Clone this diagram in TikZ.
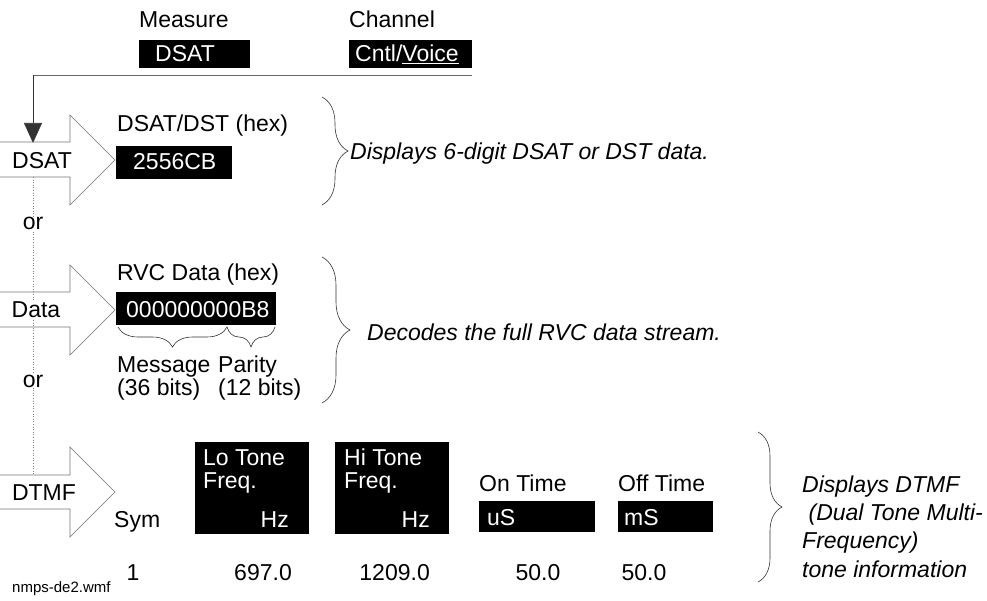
\documentclass[tikz,border=0pt]{standalone}
\usepackage{fontspec}
\setmainfont{Liberation Sans}
\usetikzlibrary{arrows.meta,decorations.pathreplacing}
\begin{document}
\begin{tikzpicture}[x=1pt,y=-1pt,
  txt/.style={inner sep=0pt,font=\fontsize{23}{27}\selectfont},
  wtxt/.style={txt,text=white},
  itxt/.style={inner sep=0pt,font=\fontsize{23}{27}\selectfont\itshape},
  blk/.style={fill=black,draw=none},
  bigarrow/.style={draw=gray!90!black,line width=0.7pt,line join=miter},
  brc/.style={draw=black!80,line width=0.6pt,decorate,decoration={brace,amplitude=#1}},
  brc/.default=24pt,
  dots/.style={draw=gray,line width=0.6pt,dash pattern=on 1pt off 1.6pt},
  lbl/.style={txt,fill=white,inner sep=1pt}]
\useasboundingbox (0,0) rectangle (987,601);
% top selectors
\node[txt,anchor=base west] (meas) at (139,28) {Measure};
\fill[blk] (139,40) rectangle (250,68);
\node[wtxt,anchor=base west] (measv) at (155,62) {DSAT};
\node[txt,anchor=base west] (chan) at (349,28) {Channel};
\fill[blk] (349,40) rectangle (472,68);
\node[wtxt,anchor=base west] (chanv) at (355,62) {Cntl/\underline{Voice}};
\coordinate (lineR) at (472,75);
\coordinate (lineL) at (33,75);
\coordinate (lineT) at (33,143);
\draw[gray!80!black,line width=0.7pt] (lineR) -- (lineL);
\draw[black!80,line width=0.7pt,-{Triangle[length=20pt,width=18pt]}] (lineL) -- (lineT);
% dotted connector
\coordinate (dotA) at (33,177);
\coordinate (dotB) at (33,475);
\draw[dots] (dotA) -- (dotB);
% big arrows
\draw[bigarrow] (0,142) -- (70,142) -- (70,115) -- (115,160) -- (70,205) -- (70,177) -- (0,177);
\draw[bigarrow] (0,292) -- (70,292) -- (70,265) -- (115,310) -- (70,355) -- (70,327) -- (0,327);
\draw[bigarrow] (0,475) -- (70,475) -- (70,447) -- (115,492) -- (70,537) -- (70,509) -- (0,509);
\node[lbl,anchor=base] (dsatl) at (42,169) {DSAT};
\node[lbl,anchor=base] (datal) at (36,318) {Data};
\node[lbl,anchor=base] (dtmfl) at (44,500) {DTMF};
\node[lbl,anchor=base] (or1) at (33,230) {or};
\node[lbl,anchor=base] (or2) at (33,387) {or};
% DSAT section
\node[txt,anchor=base west] (dsath) at (117,132) {DSAT/DST (hex)};
\fill[blk] (116,146) rectangle (232,179);
\node[wtxt,anchor=base west] (dsatv) at (133,170) {2556CB};
\draw[brc=26pt] (322,97) -- (322,205);
\node[itxt,anchor=base west] (dsatd) at (350,160) {Displays 6-digit DSAT or DST data.};
% Data section
\node[txt,anchor=base west] (rvch) at (117,281) {RVC Data (hex)};
\fill[blk] (116,292) rectangle (276,325);
\node[wtxt,anchor=base west] (rvcv) at (126,317) {000000000B8};
\draw[brc=20pt] (227,327) -- (118,327);
\draw[brc=20pt] (275,327) -- (227,327);
\node[txt,anchor=base west] (msg) at (117,372) {Message};
\node[txt,anchor=base west] (msgb) at (117,395) {(36 bits)};
\node[txt,anchor=base west] (par) at (218,372) {Parity};
\node[txt,anchor=base west] (parb) at (218,395) {(12 bits)};
\draw[brc=28pt] (322,257) -- (322,403);
\node[itxt,anchor=base west] (rvcd) at (367,340) {Decodes the full RVC data stream.};
% DTMF section
\node[txt,anchor=base west] (sym) at (114,527) {Sym};
\fill[blk] (195,442) rectangle (309,534);
\node[wtxt,anchor=base west] (lo1) at (203,465) {Lo Tone};
\node[wtxt,anchor=base west] (lo2) at (203,488) {Freq.};
\node[wtxt,anchor=base east] (lo3) at (289,527) {Hz};
\fill[blk] (335,442) rectangle (449,534);
\node[wtxt,anchor=base west] (hi1) at (344,465) {Hi Tone};
\node[wtxt,anchor=base west] (hi2) at (344,488) {Freq.};
\node[wtxt,anchor=base east] (hi3) at (430,527) {Hz};
\node[txt,anchor=base west] (ont) at (479,491) {On Time};
\fill[blk] (479,501) rectangle (595,532);
\node[wtxt,anchor=base west] (onu) at (487,525) {uS};
\node[txt,anchor=base west] (offt) at (618,491) {Off Time};
\fill[blk] (618,501) rectangle (713,532);
\node[wtxt,anchor=base west] (offu) at (624,525) {mS};
\node[txt,anchor=base] (v1) at (133,580) {1};
\node[txt,anchor=base east] (v2) at (292,580) {697.0};
\node[txt,anchor=base east] (v3) at (430,580) {1209.0};
\node[txt,anchor=base] (v4) at (538,580) {50.0};
\node[txt,anchor=base] (v5) at (644,580) {50.0};
\draw[brc=24pt] (758,432) -- (758,582);
\node[itxt,anchor=base west] (d1) at (802,492) {Displays DTMF};
\node[itxt,anchor=base west] (d2) at (802,520) {\ (Dual Tone Multi-};
\node[itxt,anchor=base west] (d3) at (802,548) {Frequency)};
\node[itxt,anchor=base west] (d4) at (802,577) {tone information};
\node[inner sep=0pt,font=\fontsize{15}{18}\selectfont,anchor=base west] (fn) at (12,592) {nmps-de2.wmf};
\end{tikzpicture}
\end{document}
